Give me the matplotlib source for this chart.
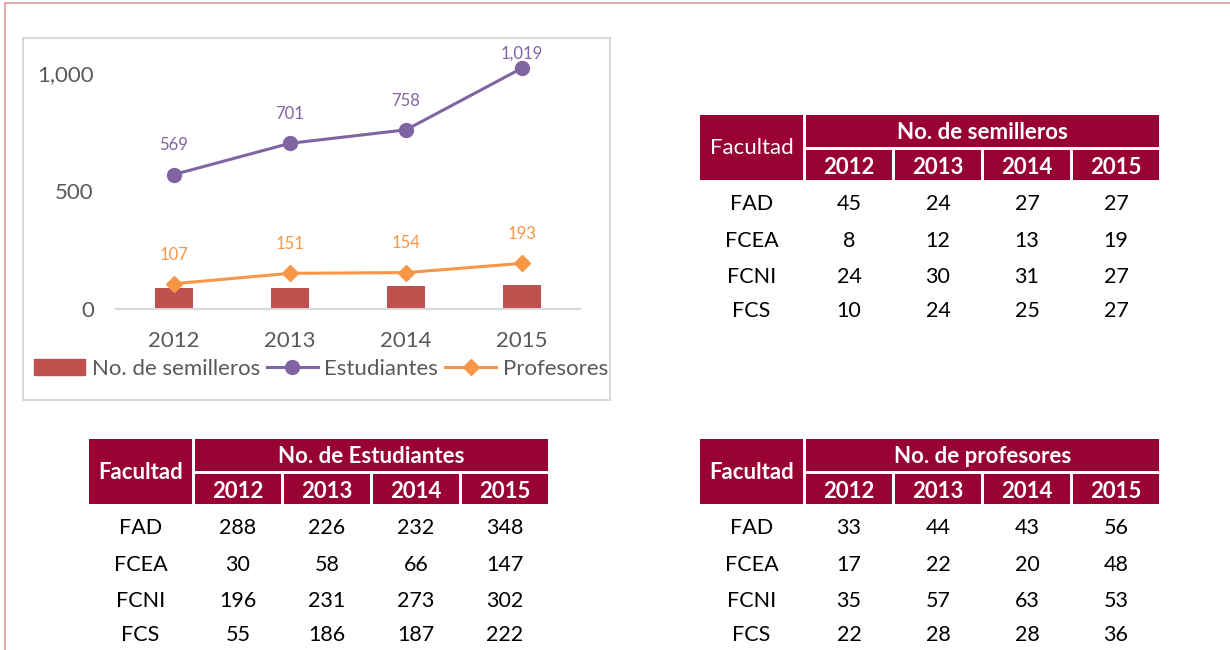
import matplotlib
matplotlib.use("Agg")
from matplotlib import pyplot as plt
from matplotlib.patches import Rectangle
from matplotlib.lines import Line2D
from matplotlib.ticker import FuncFormatter

plt.rcParams['font.family'] = ['Lato', 'DejaVu Sans']

years = ['2012', '2013', '2014', '2015']
facultades = ['FAD', 'FCEA', 'FCNI', 'FCS']

# totales para la grafica
semilleros_total = [87, 90, 96, 100]
estudiantes_total = [569, 701, 758, 1019]
profesores_total = [107, 151, 154, 193]

# tablas por facultad (filas = facultad, columnas = anio)
semilleros = [[45, 24, 27, 27],
              [8, 12, 13, 19],
              [24, 30, 31, 27],
              [10, 24, 25, 27]]
estudiantes = [[288, 226, 232, 348],
               [30, 58, 66, 147],
               [196, 231, 273, 302],
               [55, 186, 187, 222]]
profesores = [[33, 44, 43, 56],
              [17, 22, 20, 48],
              [35, 57, 63, 53],
              [22, 28, 28, 36]]

W, H = 1230, 650
RED = '#C0504D'
PURPLE = '#8064A2'
ORANGE = '#F79646'
GREY = '#595959'
WINE = '#990033'

fig = plt.figure(figsize=(W / 100, H / 100), dpi=100)

# capa de fondo en pixeles para marcos y tablas
ov = fig.add_axes([0, 0, 1, 1], zorder=0)
ov.set_xlim(0, W)
ov.set_ylim(H, 0)
ov.axis('off')

# borde de pagina
ov.plot([5, W], [3, 3], color='#DA9C9C', lw=1.2)
ov.plot([5, 5], [3, H], color='#DA9C9C', lw=1.2)
# marco del grafico
ov.add_patch(Rectangle((23, 38), 587, 362, fill=False, ec='#D9D9D9', lw=1.5))


def px_axes(x0, y0, x1, y1):
    return [x0 / W, 1 - y1 / H, (x1 - x0) / W, (y1 - y0) / H]


AX_TOP, AX_BOT = 49, 309
YMAX = 1100
ax = fig.add_axes(px_axes(116, AX_TOP, 580, AX_BOT), zorder=2)
ax.set_facecolor('none')
x = range(len(years))
ax.bar(x, semilleros_total, width=0.32, color=RED, zorder=2)
ax.plot(x, estudiantes_total, color=PURPLE, lw=2.2, marker='o', ms=10, zorder=3)
ax.plot(x, profesores_total, color=ORANGE, lw=2.2, marker='D', ms=8, zorder=3)

px_per_unit = (AX_BOT - AX_TOP) / YMAX
for i in x:
    # etiqueta encima, sin salirse del area de trazado
    room = (YMAX - estudiantes_total[i]) * px_per_unit * 0.72 - 3
    off = min(21, room)
    ax.annotate(f'{estudiantes_total[i]:,}', (i, estudiantes_total[i]), xytext=(0, off),
                textcoords='offset points', ha='center', va='center', color=PURPLE, fontsize=12)
    ax.annotate(f'{profesores_total[i]:,}', (i, profesores_total[i]), xytext=(0, 21),
                textcoords='offset points', ha='center', va='center', color=ORANGE, fontsize=12)

ax.set_xlim(-0.5, 3.5)
ax.set_ylim(0, YMAX)
ax.set_yticks([0, 500, 1000])
ax.yaxis.set_major_formatter(FuncFormatter(lambda v, p: f'{int(v):,}'))
ax.set_xticks(list(x))
ax.set_xticklabels(years)
ax.tick_params(length=0, labelsize=16, colors=GREY, pad=16)
ax.tick_params(axis='y', pad=16)
for s in ['top', 'right', 'left']:
    ax.spines[s].set_visible(False)
ax.spines['bottom'].set_color('#D9D9D9')
ax.spines['bottom'].set_linewidth(1.5)

handles = [Rectangle((0, 0), 1, 1, color=RED),
           Line2D([], [], color=PURPLE, lw=2.2, marker='o', ms=10),
           Line2D([], [], color=ORANGE, lw=2.2, marker='D', ms=8)]
fig.legend(handles, ['No. de semilleros', 'Estudiantes', 'Profesores'],
           loc='center', bbox_to_anchor=(321 / W, 1 - 369 / H), ncol=3, frameon=False,
           fontsize=16, labelcolor=GREY, handlelength=2.3, handletextpad=0.3,
           columnspacing=0.3, borderpad=0)


def draw_table(x0, y0, title, data, bold_fac):
    fac_w, col_w, gap = 103, 86, 3
    top_h, yr_h = 32, 30
    cx = [x0 + fac_w + gap + i * (col_w + gap) for i in range(len(years))]
    x_end = cx[-1] + col_w
    ov.add_patch(Rectangle((x0, y0), fac_w, top_h + gap + yr_h, color=WINE, lw=0))
    ov.text(x0 + fac_w / 2, y0 + (top_h + gap + yr_h) / 2 + 1, 'Facultad', color='white',
            fontsize=16, fontweight='bold' if bold_fac else 'normal', ha='center', va='center')
    ov.add_patch(Rectangle((cx[0], y0), x_end - cx[0], top_h, color=WINE, lw=0))
    ov.text((cx[0] + x_end) / 2, y0 + top_h / 2 + 1.5, title, color='white', fontsize=16,
            fontweight='bold', ha='center', va='center')
    for i, yr in enumerate(years):
        ov.add_patch(Rectangle((cx[i], y0 + top_h + gap), col_w, yr_h, color=WINE, lw=0))
        ov.text(cx[i] + col_w / 2, y0 + top_h + gap + yr_h / 2 + 2, yr, color='white',
                fontsize=16, fontweight='bold', ha='center', va='center')
    row_y = [89, 126, 162, 196]
    for r, fac in enumerate(facultades):
        ov.text(x0 + fac_w / 2, y0 + row_y[r], fac, fontsize=15.5, ha='center', va='center')
        for i in range(len(years)):
            ov.text(cx[i] + col_w / 2, y0 + row_y[r], str(data[r][i]), fontsize=15.5,
                    ha='center', va='center')


draw_table(700, 115, 'No. de semilleros', semilleros, False)
draw_table(89, 439, 'No. de Estudiantes', estudiantes, True)
draw_table(700, 439, 'No. de profesores', profesores, True)

fig.savefig('out.png', dpi=100)
